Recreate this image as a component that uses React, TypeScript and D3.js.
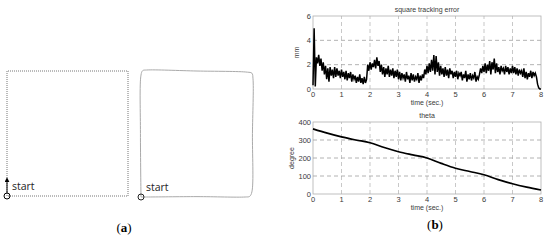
import * as d3 from "d3";

// tracking error (mm), sampled every 0.04 s, one row per second
const errorStep = 0.04;
const errorSec0 = [0.3, 5.0, 0.2, 2.6, 2.1, 2.8, 1.9, 2.5, 1.5, 2.2, 1.2, 1.9, 0.8, 1.7, 0.6, 1.8, 1.1, 1.6, 0.9, 1.8, 1.0, 1.7, 1.1, 1.5, 0.9];
const errorSec1 = [1.6, 1.0, 1.4, 0.8, 1.5, 0.7, 1.3, 0.9, 1.4, 0.6, 1.2, 0.8, 1.1, 0.5, 1.0, 0.6, 1.2, 0.5, 0.9, 0.4, 1.0, 0.5, 0.8, 2.0, 1.5];
const errorSec2 = [2.2, 1.6, 2.1, 1.8, 2.4, 1.7, 2.6, 1.9, 2.3, 1.4, 2.0, 1.2, 1.8, 1.0, 1.7, 1.2, 1.9, 1.0, 1.6, 1.1, 1.7, 0.9, 1.5, 1.0, 1.6];
const errorSec3 = [0.8, 1.4, 0.7, 1.3, 0.9, 1.2, 0.6, 1.4, 0.8, 1.1, 0.5, 1.3, 0.7, 1.2, 0.6, 1.0, 0.8, 1.3, 0.5, 1.1, 0.7, 1.2, 0.9, 1.6, 1.2];
const errorSec4 = [1.9, 1.3, 2.1, 1.4, 2.4, 1.5, 2.8, 1.2, 2.7, 1.4, 2.2, 1.1, 1.9, 1.2, 1.7, 1.0, 1.8, 1.1, 1.6, 0.9, 1.7, 1.2, 1.5, 0.9, 1.4];
const errorSec5 = [1.0, 1.5, 0.8, 1.3, 1.1, 1.4, 0.7, 1.2, 0.9, 1.5, 0.6, 1.2, 0.8, 1.3, 0.7, 1.1, 0.9, 1.4, 0.6, 1.0, 0.8, 1.2, 1.7, 1.3, 1.9];
const errorSec6 = [1.4, 2.1, 1.3, 2.0, 1.5, 2.3, 1.2, 2.2, 1.6, 2.5, 1.3, 2.1, 1.4, 1.8, 1.2, 1.9, 1.5, 1.7, 1.2, 1.9, 1.4, 1.8, 1.2, 1.7, 1.3];
const errorSec7 = [1.9, 1.3, 1.8, 1.2, 1.7, 1.1, 1.6, 1.3, 1.5, 1.0, 1.7, 0.9, 1.4, 0.8, 1.3, 1.0, 1.5, 0.9, 1.4, 1.1, 1.3, 1.0, 0.4, 0.1, 0.0, 0.0];

// theta (degree) every 0.5 s
const thetaTime = [0, 0.5, 1, 1.5, 2, 2.5, 3, 3.5, 4, 4.5, 5, 5.5, 6, 6.5, 7, 7.5, 8];
const thetaValue = [362, 338, 317, 300, 285, 258, 235, 217, 200, 170, 143, 125, 107, 80, 57, 38, 22];

const timeTicks = [0, 1, 2, 3, 4, 5, 6, 7, 8];
const errorTicks = [0, 2, 4, 6];
const thetaTicks = [0, 100, 200, 300, 400];

// square paths (percent of side)
const refSquare = [[0, 0], [0, 100], [100, 100], [100, 0], [0, 0]];
const trackedSquare = [
  [0, 0], [-0.5, 50], [0, 96], [1.5, 99.5], [5, 100], [50, 99.2], [95, 98.3], [99, 97.5],
  [100, 93], [99.5, 50], [99, 4], [97, 0.5], [93, 0], [50, 0.3], [5, 0], [0, 0],
];

const errorData = [errorSec0, errorSec1, errorSec2, errorSec3, errorSec4, errorSec5, errorSec6, errorSec7]
  .flat()
  .map((v, i) => [i * errorStep, v]);
const thetaData = thetaTime.map((t, i) => [t, thetaValue[i]]);

const font = "'Liberation Sans', Arial, sans-serif";
const grey = "#b0b0b0";
const txt = "#3a3a3a";

function Plot({ x, y, yTicks, title, ylabel, labelGap, data, lineFn, width }) {
  const [x0, x1] = x.range();
  const [y0, y1] = y.range();
  return (
    <g>
      <rect x={x0} y={y1} width={x1 - x0} height={y0 - y1} fill="white" stroke={grey} strokeWidth={0.8} />
      {timeTicks.slice(1, -1).map((t) => (
        <line key={"gx" + t} x1={x(t)} x2={x(t)} y1={y0} y2={y1} stroke={grey} strokeWidth={0.7} strokeDasharray="4,3" />
      ))}
      {yTicks.slice(1, -1).map((t) => (
        <line key={"gy" + t} x1={x0} x2={x1} y1={y(t)} y2={y(t)} stroke="#a0a0a0" strokeWidth={0.8} strokeDasharray="4,3" />
      ))}
      <path d={lineFn(data)} fill="none" stroke="black" strokeWidth={width} strokeLinejoin="miter" />
      {timeTicks.map((t) => (
        <text key={"tx" + t} x={x(t)} y={y0 + 8} fontSize={7.5} fill={txt} textAnchor="middle" fontFamily={font}>{t}</text>
      ))}
      {yTicks.map((t) => (
        <text key={"ty" + t} x={x0 - 2} y={y(t) + 2.5} fontSize={7.5} fill={txt} textAnchor="end" fontFamily={font}>{t}</text>
      ))}
      <text x={(x0 + x1) / 2} y={y0 + 15.5} fontSize={7} fill={txt} textAnchor="middle" fontFamily={font}>time (sec.)</text>
      <text x={(x0 + x1) / 2} y={y1 - 4} fontSize={7} fill={txt} textAnchor="middle" fontFamily={font}>{title}</text>
      <text transform={`translate(${x0 - labelGap},${(y0 + y1) / 2}) rotate(-90)`} fontSize={7} fill={txt} textAnchor="middle" fontFamily={font}>{ylabel}</text>
    </g>
  );
}

export default function App() {
  const x = d3.scaleLinear().domain([0, 8]).range([313, 541]);
  const yErr = d3.scaleLinear().domain([0, 6]).range([89, 16]);
  const yTheta = d3.scaleLinear().domain([0, 400]).range([194, 122]);

  const errLine = d3.line().x((d) => x(d[0])).y((d) => yErr(d[1]));
  const thetaLine = d3.line().x((d) => x(d[0])).y((d) => yTheta(d[1])).curve(d3.curveMonotoneX);

  const refX = d3.scaleLinear().domain([0, 100]).range([7, 128]);
  const refY = d3.scaleLinear().domain([0, 100]).range([196, 71]);
  const trkX = d3.scaleLinear().domain([0, 100]).range([141, 253]);
  const trkY = d3.scaleLinear().domain([0, 100]).range([197, 70]);
  const refLine = d3.line().x((d) => refX(d[0])).y((d) => refY(d[1]));
  const trkLine = d3.line().x((d) => trkX(d[0])).y((d) => trkY(d[1])).curve(d3.curveCatmullRom);

  return (
    <svg width={550} height={240} style={{ position: "absolute", left: 0, top: 0, background: "white" }}>
      <defs>
        <marker id="arr" viewBox="0 0 6 6" refX={3} refY={3} markerWidth={5} markerHeight={5} orient="auto">
          <path d="M0,0 L6,3 L0,6 z" fill="black" />
        </marker>
      </defs>

      {/* (a) */}
      <path d={refLine(refSquare)} fill="none" stroke="#777" strokeWidth={1} strokeDasharray="1,1" />
      <line x1={refX(0)} x2={refX(0)} y1={refY(0) - 3} y2={refY(13)} stroke="black" strokeWidth={1} markerEnd="url(#arr)" />
      <circle cx={refX(0)} cy={refY(0)} r={3} fill="none" stroke="black" strokeWidth={1} />
      <text x={12} y={190} fontSize={10.5} fontFamily="'Open Sans', sans-serif" fill="#222">start</text>

      <path d={trkLine(trackedSquare)} fill="none" stroke="#aaa" strokeWidth={1} />
      <circle cx={trkX(0)} cy={trkY(0)} r={3} fill="none" stroke="#222" strokeWidth={1} />
      <text x={146} y={191} fontSize={10.5} fontFamily="'Open Sans', sans-serif" fill="#222">start</text>

      <text x={124} y={232} fontSize={13} fontFamily="'Liberation Serif', serif" textAnchor="middle">
        (<tspan fontWeight="bold">a</tspan>)
      </text>

      {/* (b) */}
      <Plot x={x} y={yErr} yTicks={errorTicks} title="square tracking error" ylabel="mm" labelGap={14} data={errorData} lineFn={errLine} width={1.5} />
      <Plot x={x} y={yTheta} yTicks={thetaTicks} title="theta" ylabel="degree" labelGap={19} data={thetaData} lineFn={thetaLine} width={1.7} />

      <text x={435} y={229} fontSize={13} fontFamily="'Liberation Serif', serif" textAnchor="middle">
        (<tspan fontWeight="bold">b</tspan>)
      </text>
    </svg>
  );
}
